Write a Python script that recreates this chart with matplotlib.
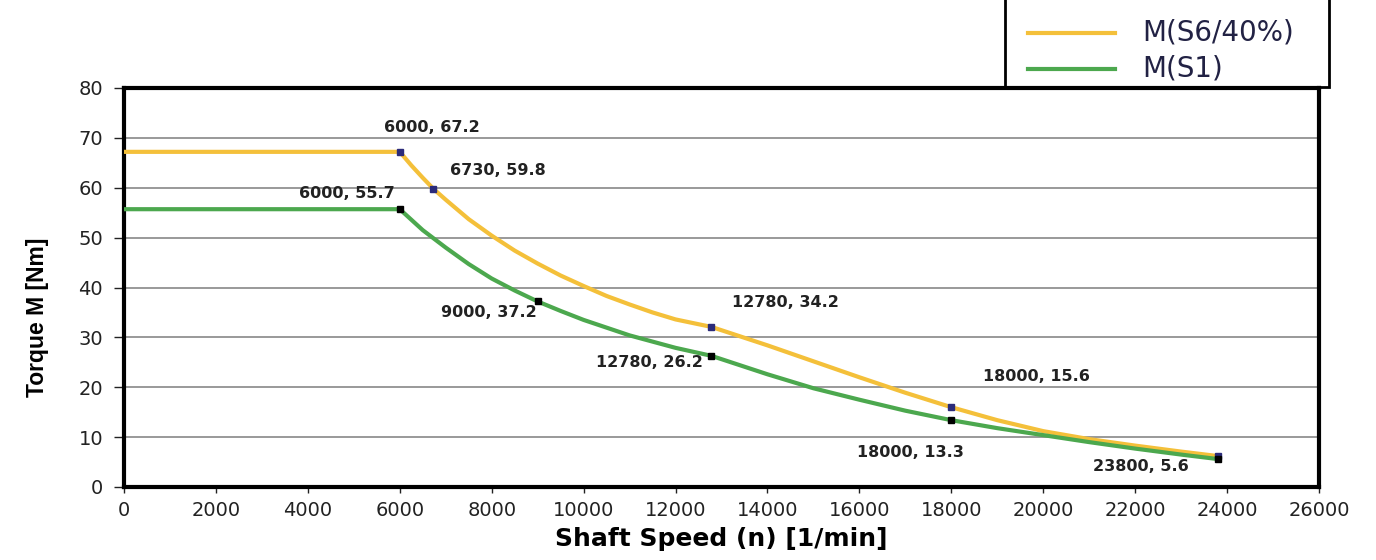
import matplotlib.pyplot as plt
from matplotlib.patches import Rectangle
from matplotlib.lines import Line2D

plt.rcParams['font.family'] = ['DejaVu Sans']

# S6/40% curve
speed_s6 = [0, 6000, 6250, 6500, 6730, 7000, 7500, 8000, 8500, 9000, 9500, 10000,
            10500, 11000, 11500, 12000, 12780, 14000, 15000, 16000, 17000, 18000,
            19000, 20000, 21000, 22000, 23000, 23800]
torque_s6 = [67.2, 67.2, 64.5, 62.0, 59.8, 57.6, 53.7, 50.4, 47.4, 44.8, 42.4, 40.3,
             38.3, 36.6, 35.0, 33.6, 32.1, 28.4, 25.2, 22.0, 18.9, 16.0,
             13.4, 11.2, 9.6, 8.3, 7.1, 6.2]
# S1 curve
speed_s1 = [0, 6000, 6500, 7000, 7500, 8000, 8500, 9000, 9500, 10000, 11000, 12000,
            12780, 14000, 15000, 16000, 17000, 18000, 19000, 20000, 21000, 22000,
            23000, 23800]
torque_s1 = [55.7, 55.7, 51.5, 48.0, 44.7, 41.8, 39.4, 37.2, 35.3, 33.5, 30.4, 27.9,
             26.3, 22.6, 19.8, 17.5, 15.3, 13.4, 11.8, 10.4, 9.0, 7.7,
             6.5, 5.6]

# marked points
mark_s6_x = [6000, 6730, 12780, 18000, 23800]
mark_s6_y = [67.2, 59.8, 32.1, 16.0, 6.2]
mark_s1_x = [6000, 9000, 12780, 18000, 23800]
mark_s1_y = [55.7, 37.2, 26.3, 13.4, 5.6]

labels = ["6000, 67.2", "6730, 59.8", "6000, 55.7", "9000, 37.2", "12780, 34.2",
          "12780, 26.2", "18000, 15.6", "18000, 13.3", "23800, 5.6"]
label_x = [6690, 8145, 4844, 7928, 14400, 11425, 19850, 17115, 22130]
label_y = [72.1, 63.5, 58.9, 34.9, 36.9, 25.0, 22.2, 7.0, 4.2]

legend_names = ['M(S6/40%)', 'M(S1)']

orange = '#F4C03A'
green = '#4CA84E'

fig = plt.figure(figsize=(13.76, 5.6), dpi=100)
ax = fig.add_axes([124/1376, 1 - 487/560, (1319 - 124)/1376, (487 - 88)/560])

ax.plot(speed_s6, torque_s6, color=orange, lw=3, solid_capstyle='butt', zorder=3)
ax.plot(speed_s1, torque_s1, color=green, lw=3, solid_capstyle='butt', zorder=3)
ax.plot(mark_s6_x, mark_s6_y, 's', color='#2B2B7A', ms=5, ls='none', zorder=4)
ax.plot(mark_s1_x, mark_s1_y, 's', color='black', ms=5, ls='none', zorder=4)

for t, x, y in zip(labels, label_x, label_y):
    ax.text(x, y, t, ha='center', va='center', fontsize=11.5, fontweight='bold', color='#222222')

ax.set_xlim(0, 26000)
ax.set_ylim(0, 80)
ax.set_xticks(range(0, 26001, 2000))
ax.set_yticks(range(0, 81, 10))
ax.yaxis.grid(True, color='#888888', lw=1.2)
ax.set_axisbelow(True)
ax.tick_params(direction='out', width=1, labelsize=14, colors='#222222')
ax.tick_params(axis='y', length=7, pad=8)
ax.tick_params(axis='x', length=4, pad=6)
for s in ax.spines.values():
    s.set_linewidth(3)

ax.set_xlabel('Shaft Speed (n) [1/min]', fontsize=18, fontweight='bold', labelpad=5)
ax.set_ylabel('Torque M [Nm]', fontsize=16.5, fontweight='bold',
              family=['Liberation Sans', 'DejaVu Sans'])
ax.yaxis.set_label_coords(-0.063, 0.426)

# legend box that runs off the top of the picture
fig.patches.append(Rectangle((1005/1376, 1 - 87/560), (1329 - 1005)/1376, 0.3,
                             transform=fig.transFigure, fill=False, ec='black', lw=2,
                             clip_on=False))
for name, col, ypx in zip(legend_names, [orange, green], [33, 69]):
    y = 1 - ypx/560
    fig.add_artist(Line2D([1028/1376, 1115/1376], [y, y], color=col, lw=3,
                          transform=fig.transFigure))
    fig.text(1142/1376, y, name, ha='left', va='center', fontsize=20, color='#222244')

fig.savefig('out.png', dpi=100)
